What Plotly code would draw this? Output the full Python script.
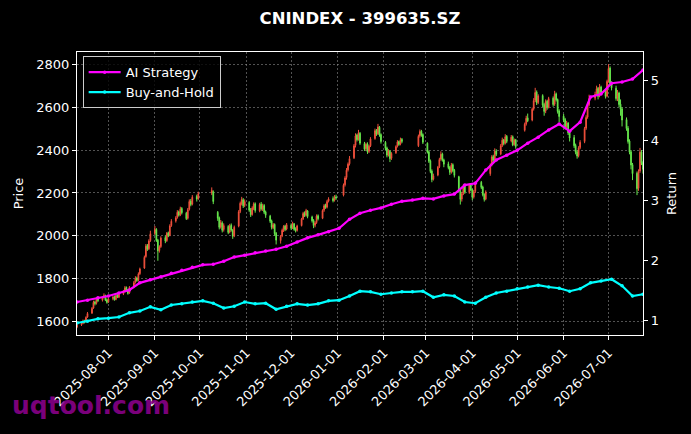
import pandas as pd
import plotly.graph_objects as go

# ---------------- data ----------------
start_date = "2025-07-11"
end_date = "2026-07-24"
holidays = ["2025-10-01", "2025-10-02", "2025-10-03", "2025-10-06", "2025-10-07", "2025-10-08",
            "2026-01-01", "2026-01-02", "2026-02-16", "2026-02-17", "2026-02-18", "2026-02-19",
            "2026-02-20", "2026-02-23", "2026-04-06", "2026-05-01", "2026-05-04", "2026-05-05",
            "2026-06-19"]

opens = [
    1575,
    1586, 1592, 1604, 1600, 1622,
    1640, 1664, 1692, 1686, 1708,
    1700, 1714, 1720, 1702, 1692,
    1708, 1716, 1704, 1724, 1714,
    1730, 1742, 1760, 1748, 1734,
    1762, 1784, 1804, 1794, 1824,
    1850, 1904, 1956, 1940, 1978,
    2012, 2030, 1980, 1932, 1950,
    1992, 1978, 2014, 2002, 2048,
    2070, 2086, 2112, 2098, 2128,
    2106, 2082, 2124, 2162, 2148,
    2184, 2174,
    2200, 2206,
    2110, 2084, 2042, 2060, 2030,
    2044, 2018, 2050, 2026, 2000,
    2046, 2114, 2150, 2168, 2142,
    2156, 2122, 2100, 2128, 2150,
    2116, 2148, 2124, 2142, 2112,
    2092, 2070, 2038, 2054, 2012,
    1978, 2000, 2024, 2046, 2032,
    2050, 2038, 2056, 2032, 2026,
    2048, 2080, 2106, 2096, 2116,
    2088, 2072, 2050, 2062, 2094,
    2082, 2120, 2144, 2134, 2162,
    2174, 2166, 2182,
    2190, 2238, 2272, 2308, 2336,
    2364, 2422, 2470, 2450, 2478,
    2430, 2406, 2428, 2394, 2420,
    2454, 2492, 2476, 2506, 2472,
    2436, 2410, 2378, 2394, 2362,
    2388, 2418, 2440, 2428, 2450,
    2420, 2466, 2488, 2472,
    2432, 2392, 2350, 2302, 2264,
    2284, 2322, 2358, 2382, 2354,
    2336, 2320, 2298, 2332, 2306,
    2276, 2212, 2172, 2198, 2232,
    2202, 2238, 2216, 2182, 2208,
    2250, 2228, 2194, 2172,
    2290, 2332, 2370, 2354, 2396,
    2382, 2422, 2448, 2432, 2464,
    2442, 2462, 2426, 2448,
    2492, 2522, 2550,
    2540, 2592, 2632, 2670, 2622,
    2654, 2612, 2582, 2628, 2600,
    2642, 2614, 2662, 2636, 2582,
    2558, 2542, 2510, 2526, 2482,
    2458, 2422, 2392, 2374, 2412,
    2440, 2502, 2554, 2612,
    2642, 2662, 2688, 2652, 2694,
    2672, 2652, 2722, 2782, 2712,
    2688, 2642, 2666, 2614, 2592,
    2542, 2502, 2442, 2392, 2332,
    2292, 2222, 2302, 2392, 2342,
]

highs = [
    1592,
    1598, 1610, 1609, 1625, 1645,
    1668, 1698, 1698, 1712, 1716,
    1718, 1732, 1726, 1708, 1712,
    1720, 1722, 1730, 1728, 1734,
    1748, 1766, 1764, 1752, 1766,
    1790, 1812, 1810, 1830, 1852,
    1908, 1962, 1962, 1984, 2024,
    2046, 2036, 1986, 1956, 1998,
    2002, 2018, 2020, 2054, 2078,
    2092, 2120, 2118, 2136, 2134,
    2112, 2130, 2170, 2172, 2190,
    2192, 2206,
    2226, 2212,
    2116, 2090, 2074, 2068, 2058,
    2050, 2056, 2058, 2032, 2048,
    2120, 2160, 2182, 2176, 2170,
    2162, 2130, 2138, 2156, 2156,
    2154, 2158, 2150, 2148, 2118,
    2098, 2076, 2060, 2058, 2018,
    2004, 2034, 2050, 2052, 2060,
    2058, 2066, 2060, 2040, 2052,
    2084, 2112, 2114, 2126, 2120,
    2094, 2078, 2068, 2100, 2100,
    2124, 2148, 2150, 2168, 2180,
    2184, 2190, 2192,
    2244, 2278, 2316, 2342, 2372,
    2428, 2478, 2476, 2494, 2484,
    2438, 2434, 2436, 2424, 2460,
    2500, 2498, 2522, 2512, 2478,
    2442, 2416, 2404, 2400, 2390,
    2422, 2446, 2444, 2458, 2456,
    2472, 2496, 2494, 2478,
    2436, 2398, 2356, 2310, 2290,
    2326, 2364, 2394, 2388, 2360,
    2346, 2326, 2340, 2338, 2312,
    2280, 2220, 2204, 2240, 2236,
    2244, 2246, 2220, 2214, 2256,
    2256, 2234, 2198, 2212,
    2338, 2376, 2378, 2408, 2404,
    2428, 2458, 2452, 2474, 2470,
    2470, 2468, 2454, 2452,
    2528, 2560, 2570,
    2598, 2642, 2690, 2678, 2660,
    2660, 2620, 2636, 2634, 2648,
    2650, 2676, 2668, 2640, 2590,
    2568, 2550, 2536, 2530, 2490,
    2470, 2430, 2400, 2418, 2446,
    2508, 2562, 2622, 2658,
    2672, 2700, 2694, 2708, 2700,
    2680, 2728, 2800, 2790, 2720,
    2700, 2680, 2672, 2636, 2600,
    2552, 2512, 2450, 2400, 2340,
    2300, 2310, 2410, 2400, 2350,
]

lows = [
    1570,
    1580, 1588, 1592, 1596, 1618,
    1636, 1660, 1676, 1680, 1692,
    1694, 1708, 1696, 1684, 1688,
    1700, 1698, 1700, 1710, 1710,
    1724, 1736, 1740, 1726, 1730,
    1756, 1778, 1786, 1788, 1818,
    1846, 1898, 1930, 1934, 1972,
    2004, 1972, 1884, 1922, 1944,
    1966, 1972, 1994, 1998, 2042,
    2062, 2080, 2090, 2092, 2100,
    2074, 2076, 2118, 2138, 2142,
    2160, 2168,
    2190, 2148,
    2070, 2030, 2034, 2016, 2020,
    2008, 2012, 2020, 1986, 1994,
    2040, 2106, 2142, 2130, 2134,
    2112, 2088, 2094, 2120, 2108,
    2110, 2118, 2116, 2102, 2084,
    2060, 2030, 2032, 2000, 1960,
    1964, 1994, 2018, 2022, 2026,
    2028, 2032, 2024, 2016, 2020,
    2044, 2074, 2088, 2090, 2082,
    2062, 2036, 2040, 2056, 2072,
    2078, 2112, 2126, 2128, 2156,
    2156, 2160, 2168,
    2184, 2230, 2262, 2300, 2328,
    2358, 2412, 2440, 2444, 2424,
    2396, 2398, 2382, 2386, 2414,
    2448, 2466, 2470, 2462, 2430,
    2400, 2366, 2370, 2344, 2354,
    2382, 2412, 2420, 2422, 2432,
    2414, 2458, 2462, 2428,
    2384, 2340, 2292, 2250, 2258,
    2278, 2316, 2350, 2346, 2320,
    2310, 2284, 2290, 2296, 2272,
    2204, 2146, 2160, 2190, 2196,
    2196, 2208, 2166, 2174, 2200,
    2218, 2184, 2160, 2166,
    2280, 2324, 2344, 2346, 2372,
    2376, 2414, 2422, 2426, 2432,
    2436, 2418, 2420, 2406,
    2486, 2514, 2530,
    2534, 2584, 2624, 2610, 2614,
    2600, 2560, 2572, 2588, 2594,
    2602, 2606, 2626, 2570, 2530,
    2530, 2496, 2500, 2470, 2440,
    2410, 2380, 2360, 2366, 2404,
    2432, 2494, 2546, 2604,
    2632, 2654, 2636, 2646, 2660,
    2640, 2646, 2714, 2700, 2678,
    2630, 2628, 2600, 2560, 2510,
    2490, 2430, 2380, 2310, 2260,
    2190, 2210, 2294, 2330, 2290,
]

closes = [
    1585,
    1590, 1602, 1598, 1620, 1638,
    1662, 1690, 1684, 1705, 1698,
    1712, 1722, 1700, 1690, 1706,
    1714, 1702, 1722, 1716, 1728,
    1740, 1758, 1746, 1732, 1760,
    1782, 1800, 1792, 1822, 1846,
    1900, 1952, 1938, 1976, 2010,
    2030, 1978, 1930, 1948, 1990,
    1976, 2012, 2000, 2046, 2068,
    2084, 2110, 2096, 2126, 2108,
    2080, 2122, 2160, 2146, 2180,
    2172, 2196,
    2212, 2160,
    2082, 2040, 2062, 2026, 2048,
    2016, 2046, 2028, 1998, 2040,
    2112, 2152, 2170, 2140, 2160,
    2120, 2098, 2130, 2148, 2118,
    2146, 2126, 2140, 2110, 2096,
    2068, 2040, 2052, 2010, 1980,
    1998, 2026, 2044, 2030, 2052,
    2036, 2058, 2030, 2024, 2046,
    2078, 2104, 2094, 2118, 2090,
    2070, 2048, 2060, 2092, 2080,
    2118, 2140, 2132, 2160, 2172,
    2164, 2180, 2176,
    2236, 2270, 2306, 2334, 2360,
    2420, 2466, 2448, 2480, 2432,
    2404, 2426, 2392, 2418, 2452,
    2490, 2474, 2508, 2470, 2440,
    2408, 2376, 2396, 2360, 2384,
    2416, 2438, 2426, 2448, 2440,
    2464, 2486, 2470, 2436,
    2390, 2348, 2300, 2262, 2280,
    2320, 2356, 2380, 2352, 2334,
    2318, 2296, 2330, 2304, 2282,
    2210, 2170, 2196, 2230, 2204,
    2236, 2214, 2180, 2206, 2248,
    2226, 2192, 2170, 2204,
    2330, 2368, 2352, 2394, 2380,
    2420, 2446, 2430, 2462, 2440,
    2460, 2424, 2446, 2416,
    2520, 2548, 2536,
    2590, 2630, 2668, 2620, 2652,
    2610, 2580, 2626, 2598, 2640,
    2612, 2660, 2634, 2580, 2556,
    2540, 2508, 2524, 2480, 2456,
    2420, 2390, 2372, 2410, 2436,
    2500, 2552, 2610, 2640,
    2660, 2686, 2650, 2692, 2670,
    2650, 2720, 2780, 2710, 2690,
    2640, 2664, 2612, 2590, 2540,
    2500, 2440, 2390, 2330, 2290,
    2220, 2300, 2390, 2340, 2310,
]

# weekly (Friday) samples of the return curves
ai_strategy = [1.30, 1.33, 1.37, 1.40, 1.45, 1.50, 1.62, 1.67, 1.72, 1.78,
               1.83, 1.88, 1.92, 1.93, 1.98, 2.05, 2.08, 2.12, 2.15, 2.18,
               2.23, 2.30, 2.37, 2.42, 2.47, 2.53, 2.68, 2.78, 2.83, 2.87,
               2.93, 2.98, 3.00, 3.03, 3.02, 3.07, 3.10, 3.25, 3.28, 3.50,
               3.67, 3.75, 3.83, 3.95, 4.05, 4.17, 4.27, 4.15, 4.30, 4.72,
               4.77, 4.95, 4.97, 5.02, 5.17]
buy_and_hold = [0.95, 0.98, 1.02, 1.03, 1.05, 1.12, 1.15, 1.22, 1.17, 1.25,
                1.27, 1.30, 1.32, 1.28, 1.20, 1.23, 1.30, 1.27, 1.28, 1.18,
                1.23, 1.27, 1.25, 1.27, 1.32, 1.33, 1.40, 1.48, 1.47, 1.43,
                1.45, 1.47, 1.47, 1.48, 1.38, 1.42, 1.40, 1.30, 1.28, 1.38,
                1.45, 1.48, 1.52, 1.55, 1.58, 1.55, 1.53, 1.48, 1.52, 1.62,
                1.65, 1.68, 1.57, 1.40, 1.43]

month_ticks = ["2025-08-01", "2025-09-01", "2025-10-01", "2025-11-01", "2025-12-01",
               "2026-01-01", "2026-02-01", "2026-03-01", "2026-04-01", "2026-05-01",
               "2026-06-01", "2026-07-01"]

# ---------------- figure ----------------
days = pd.bdate_range(start_date, end_date)
days = days[~days.isin(pd.to_datetime(holidays))]
n = min(len(days), len(opens), len(highs), len(lows), len(closes))
days = days[:n]
weeks = pd.date_range(start_date, end_date, freq="W-FRI")

FONT = "DejaVu Sans"
fig = go.Figure()
fig.add_trace(go.Candlestick(
    x=days, open=opens[:n], high=highs[:n], low=lows[:n], close=closes[:n],
    increasing=dict(line=dict(color="#f0503c", width=1), fillcolor="#f0503c"),
    decreasing=dict(line=dict(color="#66e64c", width=1), fillcolor="#66e64c"),
    showlegend=False, name="Price", whiskerwidth=0,
))
fig.add_trace(go.Scatter(
    x=weeks, y=ai_strategy[:len(weeks)], name="AI Strategy", yaxis="y2",
    mode="lines+markers", line=dict(color="#ff00ff", width=2.2),
    marker=dict(color="#ff00ff", size=3.5),
))
fig.add_trace(go.Scatter(
    x=weeks, y=buy_and_hold[:len(weeks)], name="Buy-and-Hold", yaxis="y2",
    mode="lines+markers", line=dict(color="#00ffff", width=2.2),
    marker=dict(color="#00ffff", size=3.5),
))

grid = "rgba(150,150,150,0.55)"
fig.update_layout(
    width=691, height=434,
    margin=dict(l=77, r=48, t=52, b=99),
    paper_bgcolor="black", plot_bgcolor="black",
    font=dict(family=FONT, size=13, color="white"),
    title=dict(text="<b>CNINDEX - 399635.SZ</b>", x=0.5, xref="paper", xanchor="center",
               y=1 - 18 / 434, yref="container", yanchor="middle",
               font=dict(family=FONT, size=16.5, color="white")),
    xaxis=dict(
        type="date", range=["2025-07-11", "2026-07-24"],
        rangeslider=dict(visible=False),
        tickvals=month_ticks, ticktext=month_ticks, tickangle=-45,
        showline=True, linecolor="white", linewidth=1.2, mirror=True,
        ticks="outside", tickcolor="white", ticklen=4,
        showgrid=True, gridcolor=grid, griddash="2px,2px", gridwidth=0.7,
        zeroline=False, tickfont=dict(size=13),
    ),
    yaxis=dict(
        range=[1538, 2857], tickvals=[1600, 1800, 2000, 2200, 2400, 2600, 2800],
        title=dict(text="Price", standoff=9, font=dict(size=13)),
        showline=True, linecolor="white", linewidth=1.2,
        ticks="outside", tickcolor="white", ticklen=4,
        showgrid=True, gridcolor=grid, griddash="2px,2px", gridwidth=0.7,
        zeroline=False,
    ),
    yaxis2=dict(
        overlaying="y", side="right", range=[0.75, 5.47], tickvals=[1, 2, 3, 4, 5],
        title=dict(text="Return", standoff=8, font=dict(size=13)),
        showline=True, linecolor="white", linewidth=1.2,
        ticks="outside", tickcolor="white", ticklen=4,
        showgrid=False, zeroline=False,
    ),
    legend=dict(
        x=0.01, y=0.985, xanchor="left", yanchor="top",
        bgcolor="rgba(0,0,0,0.8)", bordercolor="#cccccc", borderwidth=1,
        font=dict(size=13, color="white"), itemwidth=32,
        tracegroupgap=2,
    ),
    showlegend=True,
)

fig.add_annotation(
    text="<b>uqtool.com</b>", xref="paper", yref="paper",
    x=(10 - 77) / 566, y=(335 - 422) / 283, xanchor="left", yanchor="bottom",
    showarrow=False, font=dict(family=FONT, size=25, color="rgba(140,0,140,0.9)"),
)

fig.write_html("out.html")
